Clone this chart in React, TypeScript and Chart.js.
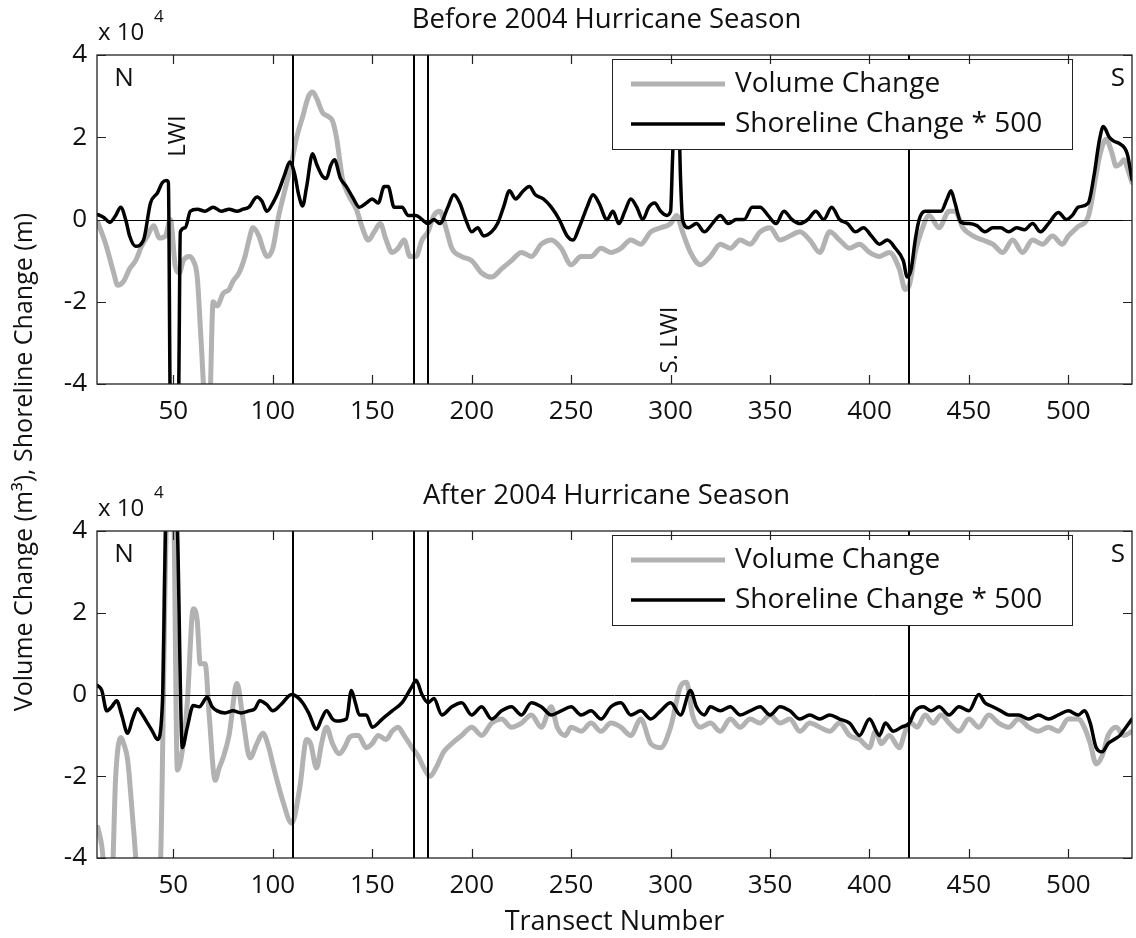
import React, { useEffect, useRef } from 'react';
import { Chart, registerables } from 'chart.js';
Chart.register(...registerables);

// ---------- axis definitions ----------
const xTickValues = [50, 100, 150, 200, 250, 300, 350, 400, 450, 500];
const yTickValues = [-4, -2, 0, 2, 4];
const xMin = 11.6;
const xMax = 532;
const yMin = -4;
const yMax = 4;
const dividerTransects = [110, 171, 178, 420];

// ---------- Before 2004 Hurricane Season ----------
const beforeVolumeT = [12, 16, 20, 22, 25, 28, 31, 34, 37, 40, 43, 46, 48.5, 51, 53, 55, 58, 60, 62, 64, 66, 68, 70, 72, 75, 78, 80, 83, 86, 88, 90, 93, 95, 97, 100, 103, 106, 109.5, 112, 115, 118, 120, 122, 125, 128, 130, 132, 135, 138, 142, 145, 148, 151, 154, 157, 160, 163, 166, 169, 172, 175, 178, 181, 184, 187, 190, 195, 200, 205, 210, 215, 220, 225, 230, 235, 240, 245, 250, 255, 260, 265, 270, 275, 280, 285, 290, 295, 300, 303, 306, 310, 315, 320, 325, 330, 335, 340, 345, 350, 355, 360, 365, 370, 375, 380, 385, 390, 395, 400, 405, 410, 415, 418, 420, 423, 426, 430, 435, 440, 443, 447, 452, 457, 462, 467, 472, 477, 482, 487, 492, 497, 500, 505, 510, 514, 516, 519, 522, 524, 526, 528, 530, 532];
const beforeVolume = [-0.07, -0.6, -1.3, -1.6, -1.5, -1.2, -1.0, -0.65, -0.4, -0.15, -0.45, -0.4, 0.0, -1.15, -1.3, -1.0, -0.9, -1.0, -1.4, -3.0, -4.6, -4.8, -2.0, -2.1, -1.8, -1.7, -1.5, -1.3, -0.9, -0.5, -0.2, -0.4, -0.7, -0.9, -0.7, 0.1, 0.7, 1.4, 2.0, 2.5, 3.0, 3.1, 2.95, 2.6, 2.5, 2.4, 2.0, 1.0, 0.6, 0.25, -0.2, -0.5, -0.3, -0.1, -0.5, -0.8, -0.7, -0.5, -0.9, -0.9, -0.5, -0.3, 0.1, 0.2, -0.2, -0.7, -0.9, -1.0, -1.3, -1.4, -1.2, -1.0, -0.8, -0.9, -0.6, -0.5, -0.7, -1.1, -0.9, -0.9, -0.7, -0.8, -0.7, -0.5, -0.6, -0.3, -0.2, -0.1, 0.1, -0.3, -0.8, -1.1, -0.9, -0.6, -0.7, -0.5, -0.6, -0.3, -0.2, -0.5, -0.4, -0.3, -0.5, -0.8, -0.3, -0.5, -0.7, -0.6, -0.8, -0.9, -0.8, -1.2, -1.7, -1.6, -0.8, -0.3, 0.1, -0.2, 0.2, 0.2, -0.2, -0.4, -0.5, -0.6, -0.8, -0.5, -0.8, -0.5, -0.6, -0.4, -0.6, -0.4, -0.17, 0.07, 1.1, 1.6, 1.95, 1.6, 1.3, 1.35, 1.45, 1.2, 0.9];

const beforeShoreT = [12, 15, 18, 21, 23.5, 26, 28, 31, 35, 38.5, 42, 44.5, 46.5, 47.5, 48.5, 52.5, 53.5, 56, 58.5, 62, 66, 70, 74, 78, 82, 85, 88, 92, 94.5, 97, 100, 103, 106, 108.5, 111, 113, 115, 117, 120, 122, 125, 127, 129, 131, 134, 137, 140, 143.5, 147, 150, 153, 156, 158, 161, 165, 168, 172, 175, 178, 181, 184, 188, 191, 194, 197, 200, 203, 206, 210, 213, 216, 219, 222, 226, 229, 232, 236, 240, 244, 248, 251, 254, 258, 261, 264, 268, 271, 274, 277, 280, 283, 286, 289, 292, 295, 298, 300, 301, 302, 304, 305, 306, 309, 313, 317, 321, 325, 329, 333, 337, 341, 345, 349, 353, 357, 361, 365, 369, 373, 377, 381, 385, 389, 393, 397, 401, 405, 409, 413, 417, 419, 421, 423, 425, 428, 432, 436, 439, 441, 443, 446, 450, 454, 458, 462, 466, 470, 474, 478, 482, 486, 490, 495, 499, 502, 505, 510, 513, 515.5, 517.6, 520.6, 523, 525.6, 529.6, 532];
const beforeShore = [0.12, 0.05, -0.07, 0.1, 0.3, 0.0, -0.4, -0.65, -0.5, 0.4, 0.65, 0.9, 0.95, 0.9, -4.6, -4.6, -0.3, -0.2, 0.2, 0.25, 0.2, 0.3, 0.2, 0.25, 0.2, 0.25, 0.3, 0.55, 0.45, 0.2, 0.4, 0.7, 1.1, 1.4, 1.1, 0.6, 0.33, 0.8, 1.6, 1.35, 1.05, 1.0, 1.3, 1.45, 1.0, 0.8, 0.55, 0.3, 0.4, 0.5, 0.4, 0.8, 0.8, 0.3, 0.3, 0.1, 0.1, 0.0, -0.1, 0.0, -0.1, 0.3, 0.6, 0.4, 0.0, -0.3, -0.2, -0.4, -0.3, -0.1, 0.3, 0.7, 0.5, 0.7, 0.8, 0.6, 0.5, 0.3, 0.0, -0.4, -0.5, -0.2, 0.3, 0.6, 0.4, 0.0, 0.2, -0.1, 0.2, 0.5, 0.3, 0.0, 0.3, 0.4, 0.2, 0.1, 0.2, 1.5, 2.6, 2.6, 1.0, 0.0, -0.2, -0.1, -0.3, -0.1, 0.1, -0.1, 0.0, 0.0, 0.3, 0.3, 0.1, -0.1, 0.2, 0.0, -0.1, 0.0, 0.2, 0.0, 0.3, 0.0, -0.1, -0.3, -0.2, -0.4, -0.6, -0.5, -0.7, -1.0, -1.4, -1.2, -0.5, 0.0, 0.2, 0.2, 0.2, 0.5, 0.7, 0.4, -0.07, -0.1, -0.15, -0.3, -0.2, -0.2, -0.3, -0.2, -0.25, -0.1, -0.3, -0.1, 0.17, 0.0, 0.1, 0.3, 0.4, 1.1, 1.9, 2.26, 2.0, 1.9, 1.85, 1.6, 0.97];

// ---------- After 2004 Hurricane Season ----------
const afterVolumeT = [12, 14, 16, 19, 21, 23.5, 25, 27, 30, 32.5, 43, 47, 50, 52, 55, 57, 60, 62, 63.5, 66, 68, 71, 73, 75, 78, 82, 85, 88.5, 92, 95, 98, 100, 105, 109.5, 113.5, 117, 119, 122, 124.5, 127, 130, 133.5, 136, 138.5, 141, 143, 147, 150, 153, 157, 160, 163, 166, 170, 173, 176, 179, 182, 186, 190, 195, 200, 205, 210, 215, 220, 225, 230, 235, 240, 243, 247, 250, 255, 260, 265, 270, 275, 280, 285, 290, 295, 300, 305, 308, 311, 315, 320, 325, 330, 335, 340, 345, 350, 355, 360, 365, 370, 375, 380, 385, 390, 395, 400, 403, 406, 410, 415, 418, 421, 424, 428, 432, 436, 440, 445, 450, 455, 460, 465, 470, 475, 480, 485, 490, 495, 500, 505, 508, 511, 514, 517, 520, 524, 528, 532];
const afterVolume = [-3.25, -3.7, -4.6, -4.6, -2.0, -1.05, -1.2, -1.6, -3.3, -4.6, -4.6, 4.6, 4.6, -1.85, -1.2, -0.2, 2.1, 1.8, 0.75, 0.75, -0.5, -2.1, -1.8, -1.55, -1.0, 0.27, -0.6, -1.55, -1.2, -0.95, -1.3, -1.7, -2.6, -3.15, -2.3, -1.1, -1.2, -1.8, -1.2, -0.8, -1.2, -1.45, -1.3, -1.05, -1.0, -1.0, -1.3, -1.2, -1.0, -1.1, -0.9, -0.8, -1.0, -1.3, -1.5, -1.8, -2.0, -1.8, -1.4, -1.2, -1.0, -0.8, -1.0, -0.7, -0.6, -0.8, -0.7, -0.5, -0.8, -0.3, -0.8, -1.0, -0.8, -0.9, -0.7, -0.9, -0.7, -0.8, -1.0, -0.6, -1.2, -1.3, -0.8, 0.2, 0.3, -0.5, -0.8, -0.7, -0.9, -0.6, -0.8, -0.6, -0.7, -0.5, -0.7, -0.6, -0.9, -0.7, -0.8, -0.9, -0.7, -1.0, -1.1, -1.3, -0.9, -1.2, -1.0, -1.3, -0.9, -0.7, -0.8, -0.5, -0.7, -0.5, -0.7, -0.9, -0.6, -0.8, -0.5, -0.7, -0.8, -0.6, -0.8, -0.9, -0.8, -0.9, -0.6, -0.6, -0.8, -1.2, -1.7, -1.5, -1.0, -0.8, -1.0, -0.9];

const afterShoreT = [12, 14, 16.5, 19, 21.5, 24, 27, 29.5, 32, 34.5, 37, 39.5, 42, 44.5, 46.5, 51.5, 54.5, 57, 60, 63, 67, 69.5, 72, 76, 80, 84, 88, 91, 93.5, 97, 100, 104, 109.5, 112, 115, 118, 122, 124.5, 127, 130, 132, 137, 139.5, 141.5, 143.5, 147, 150, 155, 160, 165, 170, 172, 175, 178, 181, 185, 190, 195, 200, 205, 210, 215, 220, 225, 230, 235, 240, 245, 250, 255, 260, 265, 270, 275, 280, 285, 290, 295, 300, 305, 310, 313, 317, 320, 325, 330, 335, 340, 345, 350, 355, 360, 365, 370, 375, 380, 385, 390, 395, 400, 405, 408, 412, 416, 420, 423, 427, 431, 435, 440, 445, 450, 455, 458, 462, 466, 470, 475, 480, 485, 490, 495, 500, 505, 508, 511, 514, 517, 520, 523, 526, 529, 532];
const afterShore = [0.22, 0.1, -0.4, -0.3, -0.15, -0.5, -0.95, -0.6, -0.35, -0.5, -0.7, -0.9, -1.1, -0.2, 4.6, 4.6, -1.3, -0.8, -0.27, -0.3, -0.07, -0.3, -0.4, -0.45, -0.4, -0.45, -0.4, -0.35, -0.15, -0.25, -0.4, -0.25, 0.0, -0.05, -0.2, -0.45, -0.85, -0.6, -0.4, -0.6, -0.65, -0.6, 0.1, -0.2, -0.5, -0.5, -0.8, -0.6, -0.4, -0.2, 0.2, 0.35, 0.0, -0.2, -0.1, -0.5, -0.3, -0.2, -0.5, -0.3, -0.6, -0.4, -0.3, -0.5, -0.2, -0.3, -0.5, -0.4, -0.3, -0.5, -0.4, -0.6, -0.3, -0.2, -0.5, -0.4, -0.6, -0.4, -0.2, -0.5, 0.1, -0.3, -0.5, -0.3, -0.4, -0.3, -0.5, -0.4, -0.3, -0.5, -0.3, -0.4, -0.6, -0.5, -0.6, -0.5, -0.6, -0.7, -1.0, -0.6, -1.0, -0.7, -0.9, -0.8, -0.7, -0.4, -0.3, -0.4, -0.3, -0.5, -0.3, -0.4, 0.0, -0.2, -0.3, -0.4, -0.5, -0.5, -0.6, -0.5, -0.6, -0.5, -0.4, -0.5, -0.4, -0.7, -1.3, -1.4, -1.2, -1.1, -1.0, -0.8, -0.6];

// ---------- text ----------
const volumeLabel = 'Volume Change';
const shoreLabel = 'Shoreline Change * 500';
const beforeTitle = 'Before 2004 Hurricane Season';
const afterTitle = 'After 2004 Hurricane Season';
const yAxisLabel = 'Volume Change (m³), Shoreline Change (m)';
const xAxisLabel = 'Transect Number';

const FONT = "'Open Sans', 'Noto Sans', sans-serif";
const GRAY = 'rgb(178,178,178)';
const INK = '#111';

function pts(t: number[], v: number[]) {
  return t.map((x, i) => ({ x, y: v[i] }));
}

type OverlayCfg = {
  title: string;
  lwi: boolean;
  yLabel: boolean;
  xTitleY: number | null;
};

function makeOverlay(cfg: OverlayCfg) {
  return {
    id: 'overlay',
    afterDatasetsDraw(chart: any) {
      const { ctx, chartArea: a, scales } = chart;
      const xs = scales.x;
      const ys = scales.y;
      ctx.save();
      ctx.beginPath();
      ctx.rect(a.left, a.top, a.right - a.left, a.bottom - a.top);
      ctx.clip();
      ctx.strokeStyle = '#000';
      ctx.lineWidth = 1;
      const y0 = Math.round(ys.getPixelForValue(0)) + 0.5;
      ctx.beginPath();
      ctx.moveTo(a.left, y0);
      ctx.lineTo(a.right, y0);
      ctx.stroke();
      ctx.lineWidth = 2;
      dividerTransects.forEach((t) => {
        const px = Math.round(xs.getPixelForValue(t));
        ctx.beginPath();
        ctx.moveTo(px, a.top);
        ctx.lineTo(px, a.bottom);
        ctx.stroke();
      });
      ctx.restore();

      // legend box
      ctx.save();
      const lx = a.left + 515;
      const ly = a.top + 4;
      const lw = 460;
      const lh = 90;
      ctx.fillStyle = '#fff';
      ctx.fillRect(lx, ly, lw, lh);
      ctx.strokeStyle = '#222';
      ctx.lineWidth = 1;
      ctx.strokeRect(lx + 0.5, ly + 0.5, lw, lh);
      const rows = [
        { label: volumeLabel, color: GRAY, width: 5, y: ly + 25 },
        { label: shoreLabel, color: '#000', width: 3.5, y: ly + 65 },
      ];
      rows.forEach((r) => {
        ctx.strokeStyle = r.color;
        ctx.lineWidth = r.width;
        ctx.beginPath();
        ctx.moveTo(lx + 19, r.y);
        ctx.lineTo(lx + 113, r.y);
        ctx.stroke();
        ctx.fillStyle = INK;
        ctx.font = `28px ${FONT}`;
        ctx.textAlign = 'left';
        ctx.textBaseline = 'middle';
        ctx.fillText(r.label, lx + 123, r.y);
      });
      ctx.restore();
    },
    afterDraw(chart: any) {
      const { ctx, chartArea: a, scales } = chart;
      const xs = scales.x;
      const ys = scales.y;
      ctx.save();
      // box
      ctx.strokeStyle = '#222';
      ctx.lineWidth = 1.3;
      ctx.strokeRect(a.left, a.top, a.right - a.left, a.bottom - a.top);
      // inward ticks
      ctx.lineWidth = 1.2;
      const tl = 9;
      xTickValues.forEach((v) => {
        const px = Math.round(xs.getPixelForValue(v)) + 0.5;
        ctx.beginPath();
        ctx.moveTo(px, a.bottom);
        ctx.lineTo(px, a.bottom - tl);
        ctx.moveTo(px, a.top);
        ctx.lineTo(px, a.top + tl);
        ctx.stroke();
      });
      yTickValues.forEach((v) => {
        const py = Math.round(ys.getPixelForValue(v)) + 0.5;
        ctx.beginPath();
        ctx.moveTo(a.left, py);
        ctx.lineTo(a.left + tl, py);
        ctx.moveTo(a.right, py);
        ctx.lineTo(a.right - tl, py);
        ctx.stroke();
      });

      ctx.fillStyle = INK;
      // title
      ctx.font = `27.5px ${FONT}`;
      ctx.textAlign = 'center';
      ctx.textBaseline = 'middle';
      ctx.fillText(cfg.title, (a.left + a.right) / 2 - 8, a.top - 35);
      // exponent
      ctx.textAlign = 'left';
      ctx.font = `24px ${FONT}`;
      ctx.fillText('x 10', a.left + 1, a.top - 22);
      ctx.font = `17px ${FONT}`;
      ctx.fillText('4', a.left + 57, a.top - 38);
      // N / S
      ctx.font = `26px ${FONT}`;
      ctx.textAlign = 'center';
      ctx.fillText('N', a.left + 27, a.top + 24);
      ctx.fillText('S', a.right - 14, a.top + 24);
      if (cfg.lwi) {
        ctx.font = `24px ${FONT}`;
        ctx.save();
        ctx.translate(a.left + 81, a.top + 81);
        ctx.rotate(-Math.PI / 2);
        ctx.fillText('LWI', 0, 0);
        ctx.restore();
        ctx.save();
        ctx.translate(xs.getPixelForValue(300), a.top + 285);
        ctx.rotate(-Math.PI / 2);
        ctx.fillText('S. LWI', 0, 0);
        ctx.restore();
      }
      if (cfg.yLabel) {
        ctx.font = `25px ${FONT}`;
        ctx.save();
        ctx.translate(25, 462);
        ctx.rotate(-Math.PI / 2);
        ctx.fillText(yAxisLabel, 0, 0);
        ctx.restore();
      }
      if (cfg.xTitleY !== null) {
        ctx.font = `27px ${FONT}`;
        ctx.fillText(xAxisLabel, (a.left + a.right) / 2, cfg.xTitleY);
      }
      ctx.restore();
    },
  };
}

function buildConfig(
  volT: number[],
  vol: number[],
  shT: number[],
  sh: number[],
  padTop: number,
  xAxisHeight: number,
  cfg: OverlayCfg
): any {
  return {
    type: 'line',
    data: {
      datasets: [
        {
          label: volumeLabel,
          data: pts(volT, vol),
          borderColor: GRAY,
          borderWidth: 5,
          pointRadius: 0,
          cubicInterpolationMode: 'monotone',
          borderJoinStyle: 'round',
          borderCapStyle: 'round',
          clip: 0,
          order: 2,
        },
        {
          label: shoreLabel,
          data: pts(shT, sh),
          borderColor: '#000',
          borderWidth: 3.5,
          pointRadius: 0,
          cubicInterpolationMode: 'monotone',
          borderJoinStyle: 'round',
          borderCapStyle: 'round',
          clip: 0,
          order: 1,
        },
      ],
    },
    options: {
      responsive: false,
      animation: false,
      events: [],
      layout: { padding: { top: padTop, right: 4, left: 0, bottom: 0 } },
      plugins: { legend: { display: false }, tooltip: { enabled: false }, title: { display: false } },
      scales: {
        x: {
          type: 'linear',
          min: xMin,
          max: xMax,
          grid: { display: false, drawTicks: false },
          border: { display: false },
          afterBuildTicks: (s: any) => {
            s.ticks = xTickValues.map((v) => ({ value: v }));
          },
          afterFit: (s: any) => {
            s.height = xAxisHeight;
          },
          ticks: {
            autoSkip: false,
            maxRotation: 0,
            padding: 12,
            color: INK,
            font: { family: FONT, size: 26 },
            callback: (v: any) => String(v),
          },
        },
        y: {
          type: 'linear',
          min: yMin,
          max: yMax,
          grid: { display: false, drawTicks: false },
          border: { display: false },
          afterBuildTicks: (s: any) => {
            s.ticks = yTickValues.map((v) => ({ value: v }));
          },
          afterFit: (s: any) => {
            s.width = 97;
          },
          ticks: {
            autoSkip: false,
            padding: 10,
            color: INK,
            font: { family: FONT, size: 26 },
            callback: (v: any) => String(v),
          },
        },
      },
    },
    plugins: [makeOverlay(cfg)],
  };
}

export default function App() {
  const topRef = useRef<HTMLCanvasElement>(null);
  const botRef = useRef<HTMLCanvasElement>(null);

  useEffect(() => {
    const top = new Chart(
      topRef.current as HTMLCanvasElement,
      buildConfig(beforeVolumeT, beforeVolume, beforeShoreT, beforeShore, 55, 938 - 384, {
        title: beforeTitle,
        lwi: true,
        yLabel: true,
        xTitleY: null,
      })
    );
    const bottom = new Chart(
      botRef.current as HTMLCanvasElement,
      buildConfig(afterVolumeT, afterVolume, afterShoreT, afterShore, 62, 80, {
        title: afterTitle,
        lwi: false,
        yLabel: false,
        xTitleY: 922 - 469,
      })
    );
    return () => {
      top.destroy();
      bottom.destroy();
    };
  }, []);

  return (
    <div style={{ position: 'absolute', left: 0, top: 0, width: 1136, height: 938, background: '#fff' }}>
      <canvas ref={topRef} width={1136} height={938} style={{ position: 'absolute', left: 0, top: 0 }} />
      <canvas ref={botRef} width={1136} height={469} style={{ position: 'absolute', left: 0, top: 469 }} />
    </div>
  );
}
